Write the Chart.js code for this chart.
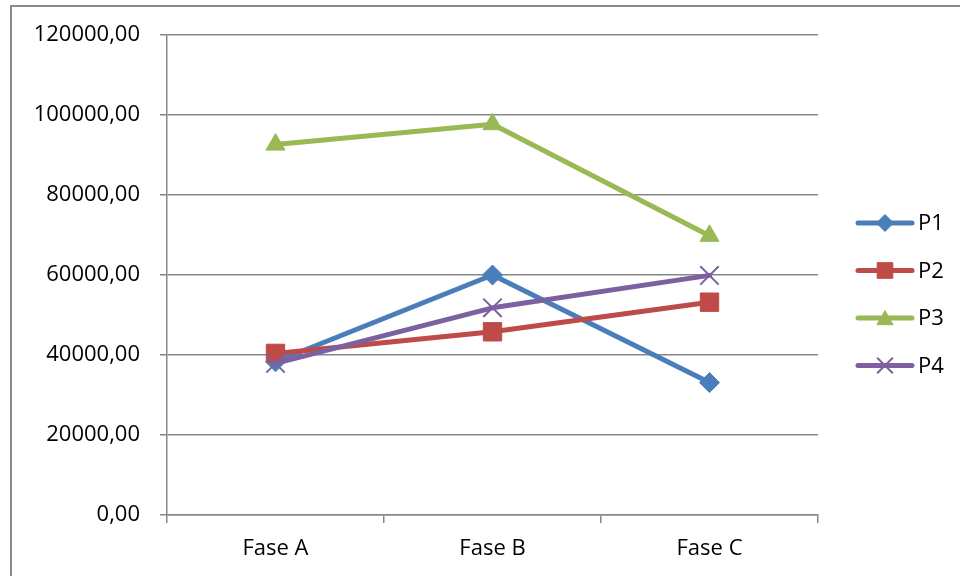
<!DOCTYPE html>
<html>
<head>
<meta charset="utf-8">
<script src="https://cdn.jsdelivr.net/npm/chart.js@4"></script>
<style>
  html, body { margin: 0; padding: 0; background: #fff; }
  #wrap { width: 960px; height: 576px; }
</style>
</head>
<body>
<div id="wrap"><canvas id="lineChart" width="960" height="576"></canvas></div>
<script>
// data
const categories = ['Fase A', 'Fase B', 'Fase C'];
const seriesNames = ['P1', 'P2', 'P3', 'P4'];
const p1 = [38300, 60000, 33100];
const p2 = [40400, 45800, 53200];
const p3 = [92600, 97700, 69800];
const p4 = [37900, 51800, 59900];
const yTicks = { min: 0, max: 120000, step: 20000 };

const colors = ['#4A7EBB', '#BE4B48', '#98B954', '#7D60A0'];
const markers = ['rectRot', 'rect', 'triangle', 'crossRot'];
const markerSize = [10, 13, 11, 13];
const FONT = '"Open Sans", "DejaVu Sans", sans-serif';

function fmt(v) {
    return v.toFixed(2).replace('.', ',');
}

// borde del gráfico (el marco gris de Excel)
const frame = {
    id: 'frame',
    beforeDraw(chart) {
        const c = chart.ctx;
        c.save();
        c.fillStyle = '#fff';
        c.fillRect(0, 0, chart.width, chart.height);
        c.strokeStyle = '#8c8c8c';
        c.lineWidth = 2;
        c.strokeRect(11, 6, chart.width + 20, chart.height + 20);
        c.restore();
    }
};

// leyenda con línea + marcador, como la de Excel
const lineLegend = {
    id: 'lineLegend',
    afterDraw(chart) {
        const c = chart.ctx;
        const x0 = chart.chartArea.right + 40;
        const y0 = 223;
        c.save();
        chart.data.datasets.forEach((ds, i) => {
            const y = y0 + i * 47.5;
            c.strokeStyle = ds.borderColor;
            c.lineWidth = 5;
            c.lineCap = 'round';
            c.beginPath();
            c.moveTo(x0, y);
            c.lineTo(x0 + 54, y);
            c.stroke();
            c.lineCap = 'butt';
            c.fillStyle = ds.borderColor;
            c.strokeStyle = ds.borderColor;
            const bw = ds.pointStyle === 'crossRot' ? 2 : 1;
            c.lineWidth = bw;
            Chart.helpers.drawPoint(c, {
                pointStyle: ds.pointStyle,
                rotation: 0,
                borderWidth: bw,
                radius: ds.pointRadius * 0.85
            }, x0 + 27, y + (ds.pointStyle === 'triangle' ? 2 : 0));
            c.fillStyle = '#000';
            c.font = '22px ' + FONT;
            c.textBaseline = 'middle';
            c.textAlign = 'left';
            c.fillText(ds.label, x0 + 60, y + 1);
        });
        c.restore();
    }
};

const values = [p1, p2, p3, p4];
const datasets = values.map((vals, i) => ({
    label: seriesNames[i],
    data: vals,
    borderColor: colors[i],
    backgroundColor: colors[i],
    borderWidth: 5,
    borderJoinStyle: 'round',
    borderCapStyle: 'round',
    tension: 0,
    pointStyle: markers[i],
    pointRadius: markerSize[i],
    pointHoverRadius: markerSize[i],
    pointBorderWidth: markers[i] === 'crossRot' ? 2 : 1,
    pointBorderColor: colors[i],
    pointBackgroundColor: colors[i],
    order: values.length - 1 - i
}));

new Chart(document.getElementById('lineChart'), {
    type: 'line',
    data: { labels: categories, datasets: datasets },
    options: {
        responsive: false,
        animation: false,
        layout: { padding: { top: 35, right: 142, left: 0, bottom: 0 } },
        scales: {
            x: {
                offset: true,
                afterFit(scale) { scale.height = 61; },
                grid: {
                    offset: true,
                    drawOnChartArea: false,
                    drawTicks: true,
                    tickLength: 8,
                    color: '#878787',
                    lineWidth: 1.5
                },
                border: { display: true, color: '#878787', width: 1.5 },
                ticks: { color: '#000', font: { family: FONT, size: 22 }, padding: 13, maxRotation: 0 }
            },
            y: {
                min: yTicks.min,
                max: yTicks.max,
                afterFit(scale) { scale.width = 167; },
                grid: { color: '#878787', lineWidth: 1.5, tickLength: 7 },
                border: { display: true, color: '#878787', width: 1.5 },
                ticks: {
                    stepSize: yTicks.step,
                    color: '#000',
                    font: { family: FONT, size: 22 },
                    padding: 20,
                    callback: (v) => fmt(v)
                }
            }
        },
        plugins: {
            legend: { display: false },
            tooltip: { enabled: false }
        }
    },
    plugins: [frame, lineLegend]
});
</script>
</body>
</html>
